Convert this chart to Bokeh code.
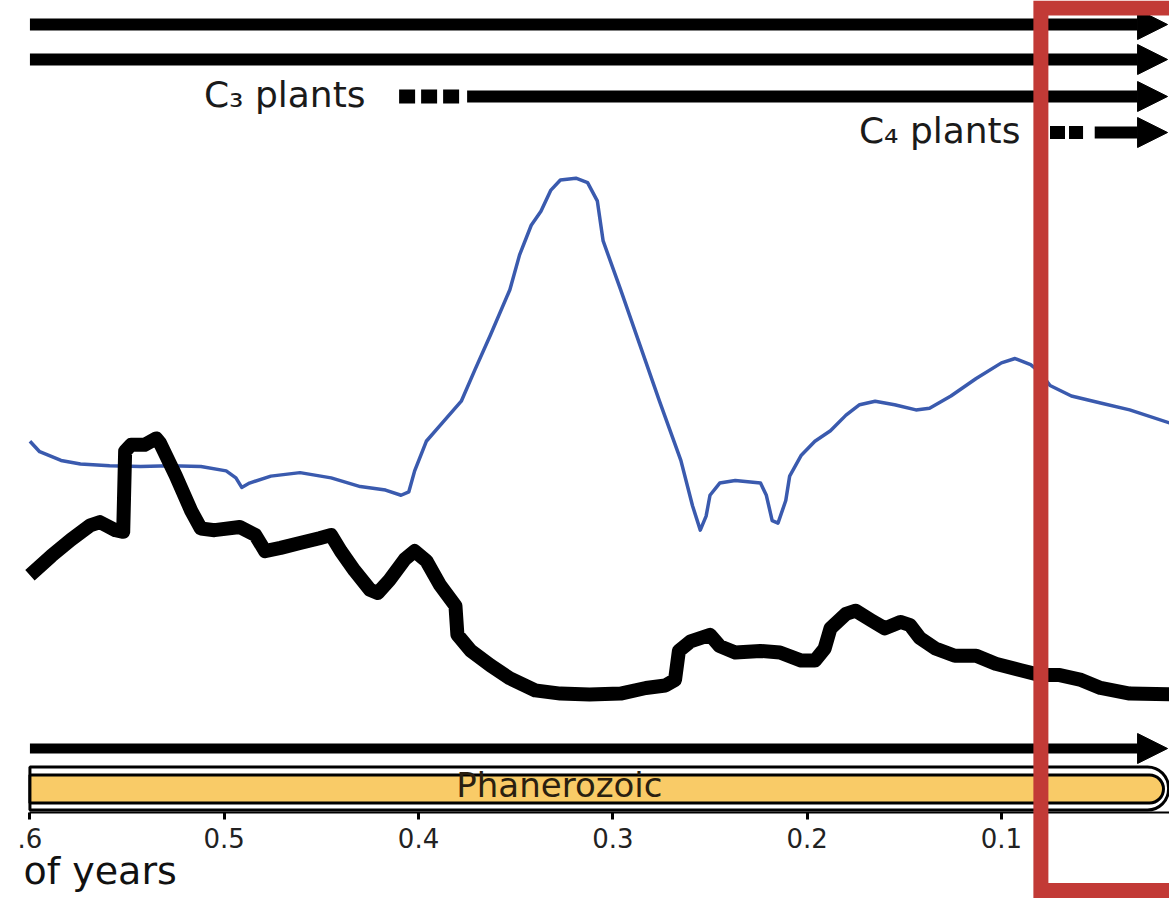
from bokeh.plotting import figure
from bokeh.models import Range1d, FixedTicker, Arrow, NormalHead, Label, BoxAnnotation
from bokeh.core.properties import value
from bokeh.embed import file_html
from bokeh.resources import INLINE

# ---------------- data (time in billions of years before present) ----------------
O2_AGE = [0.600, 0.595, 0.584, 0.574, 0.559, 0.543, 0.528, 0.512, 0.499, 0.494,
          0.491, 0.487, 0.476, 0.461, 0.445, 0.430, 0.417, 0.409, 0.405, 0.402,
          0.396, 0.389, 0.378, 0.371, 0.363, 0.353, 0.348, 0.342, 0.337, 0.332,
          0.327, 0.319, 0.313, 0.308, 0.305, 0.296, 0.286, 0.276, 0.265, 0.259,
          0.255, 0.252, 0.250, 0.245, 0.237, 0.224, 0.221, 0.218, 0.215, 0.211,
          0.209, 0.203, 0.196, 0.188, 0.180, 0.173, 0.165, 0.155, 0.144, 0.137,
          0.126, 0.113, 0.100, 0.093, 0.085, 0.080, 0.075, 0.064, 0.049, 0.034,
          0.012]
O2_PCT = [19.9, 19.3, 18.8, 18.6, 18.5, 18.45, 18.5, 18.45, 18.2, 17.8,
          17.25, 17.5, 17.9, 18.1, 17.8, 17.3, 17.1, 16.8, 17.0, 18.2,
          19.9, 20.8, 22.2, 24.0, 26.0, 28.6, 30.6, 32.3, 33.1, 34.3,
          34.9, 35.0, 34.75, 33.7, 31.4, 28.6, 25.4, 22.2, 18.8, 16.2,
          14.8, 15.6, 16.8, 17.5, 17.65, 17.5, 16.8, 15.35, 15.2, 16.5,
          17.9, 19.1, 19.9, 20.5, 21.4, 22.0, 22.2, 22.0, 21.7, 21.8,
          22.5, 23.5, 24.4, 24.65, 24.3, 23.85, 23.1, 22.5, 22.1, 21.7,
          20.9]

CO2_AGE = [0.600, 0.589, 0.579, 0.569, 0.564, 0.556, 0.552, 0.551, 0.548, 0.541,
           0.535, 0.533, 0.525, 0.517, 0.512, 0.505, 0.492, 0.484, 0.479, 0.471,
           0.461, 0.451, 0.445, 0.440, 0.433, 0.425, 0.421, 0.415, 0.407, 0.402,
           0.396, 0.389, 0.381, 0.380, 0.373, 0.363, 0.353, 0.340, 0.327, 0.312,
           0.296, 0.283, 0.273, 0.268, 0.266, 0.260, 0.250, 0.245, 0.237, 0.224,
           0.214, 0.203, 0.196, 0.191, 0.188, 0.180, 0.175, 0.167, 0.160, 0.152,
           0.147, 0.142, 0.134, 0.124, 0.113, 0.103, 0.090, 0.080, 0.070, 0.059,
           0.049, 0.034, 0.012]
CO2_REL = [8.4, 9.6, 10.6, 11.5, 11.7, 11.2, 11.1, 16.1, 16.5, 16.5,
           16.9, 16.6, 14.6, 12.4, 11.3, 11.2, 11.4, 10.9, 9.9, 10.1,
           10.4, 10.7, 10.9, 9.9, 8.7, 7.5, 7.3, 8.1, 9.4, 9.9,
           9.3, 7.8, 6.5, 4.7, 3.7, 2.8, 2.0, 1.25, 1.05, 1.0,
           1.05, 1.4, 1.55, 1.9, 3.7, 4.3, 4.7, 4.0, 3.6, 3.7,
           3.6, 3.1, 3.1, 3.85, 5.1, 6.0, 6.2, 5.6, 5.1, 5.5,
           5.3, 4.5, 3.85, 3.4, 3.4, 2.9, 2.5, 2.2, 2.2, 1.9,
           1.4, 1.05, 1.0]

TICKS = [0.6, 0.5, 0.4, 0.3, 0.2, 0.1, 0.0]
TICK_LABELS = {0.6: ".6"}
AXIS_TEXT = "of years"

LIFE_START = [0.6, 0.6]                 # two long-lived lineages (top arrows)
C3_TEXT = "C\u2083 plants"
C3_AGES = [0.410, 0.378, 0.375]          # uncertain start, uncertain end, established
C4_TEXT = "C\u2084 plants"
C4_AGES = [0.075, 0.058, 0.052]
EON_TEXT = "Phanerozoic"
EON_AGES = [0.6, 0.014]
ARROW_END = 0.0145
EON_TEXT_AGE = 0.3275

# ---------------- figure ----------------
FONT = value("DejaVu Sans")
p = figure(width=1169, height=901, output_backend="svg", toolbar_location=None,
           x_range=Range1d(0.61515, 0.01351), y_range=Range1d(-6.517, 45.2),
           y_axis_location=None, x_axis_location="below",
           min_border_top=0, min_border_left=0, min_border_right=0, min_border_bottom=0)
p.extra_y_ranges = {"co2": Range1d(-11.863, 44.099), "lane": Range1d(-89, 812)}
p.outline_line_color = None
p.grid.visible = False
p.background_fill_color = "white"
p.border_fill_color = "white"

ax = p.xaxis[0]
ax.fixed_location = -1.409
ax.ticker = FixedTicker(ticks=TICKS)
ax.major_label_overrides = TICK_LABELS
ax.bounds = (0.0, 0.6)
ax.axis_line_width = 2
ax.axis_line_color = "black"
ax.major_tick_line_width = 3
ax.major_tick_out = 7
ax.major_tick_in = 0
ax.minor_tick_line_color = None
ax.major_label_standoff = 8
ax.major_label_text_font = "DejaVu Sans"
ax.major_label_text_font_size = "26px"
ax.major_label_text_color = "#222222"

# curves
p.line(O2_AGE, O2_PCT, line_color="#3a5aae", line_width=3.5, line_join="round")
p.line(CO2_AGE, CO2_REL, y_range_name="co2", line_color="black", line_width=14,
       line_join="round", line_cap="butt")

# top arrows
LANES = [788, 753, 716, 680]
for lane in LANES[:2]:
    p.add_layout(Arrow(end=NormalHead(size=30, fill_color="black", line_color="black"),
                       x_start=LIFE_START[0], x_end=ARROW_END, y_start=lane, y_end=lane,
                       line_width=12, line_color="black", y_range_name="lane"))

# C3
p.line([C3_AGES[0], C3_AGES[1]], [LANES[2], LANES[2]], y_range_name="lane",
       line_width=14, line_color="black", line_dash="16 6")
p.add_layout(Arrow(end=NormalHead(size=30, fill_color="black", line_color="black"),
                   x_start=C3_AGES[2], x_end=ARROW_END, y_start=LANES[2], y_end=LANES[2],
                   line_width=12, line_color="black", y_range_name="lane"))
# C4
p.line([C4_AGES[0], C4_AGES[1]], [LANES[3], LANES[3]], y_range_name="lane",
       line_width=13, line_color="black", line_dash="15 4")
p.add_layout(Arrow(end=NormalHead(size=30, fill_color="black", line_color="black"),
                   x_start=C4_AGES[2], x_end=ARROW_END, y_start=LANES[3], y_end=LANES[3],
                   line_width=12, line_color="black", y_range_name="lane"))

p.text(x=[0.4273], y=[718], text=[C3_TEXT], y_range_name="lane", text_font=FONT,
       text_font_size="36px", text_align="right", text_baseline="alphabetic",
       text_color="#1a1a1a")
p.text(x=[0.0902], y=[682], text=[C4_TEXT], y_range_name="lane", text_font=FONT,
       text_font_size="36px", text_align="right", text_baseline="alphabetic",
       text_color="#1a1a1a")

# bottom arrow
p.add_layout(Arrow(end=NormalHead(size=30, fill_color="black", line_color="black"),
                   x_start=EON_AGES[0], x_end=ARROW_END, y_start=64, y_end=64,
                   line_width=10, line_color="black", y_range_name="lane"))

# eon bar
p.quad(left=[EON_AGES[0]], right=[EON_AGES[1]], top=[45.5], bottom=[2.5],
       y_range_name="lane", fill_color="white", line_color="black", line_width=3,
       border_radius=(0, 21, 21, 0))
p.quad(left=[EON_AGES[0]], right=[0.0166], top=[37.5], bottom=[9.5],
       y_range_name="lane", fill_color="#f9cb67", line_color="black", line_width=3,
       border_radius=(0, 14, 14, 0))
p.text(x=[EON_TEXT_AGE], y=[28], text=[EON_TEXT], y_range_name="lane", text_font=FONT,
       text_font_size="34px", text_align="center", text_baseline="alphabetic",
       text_color="#2a1f10")

# axis title fragment
p.add_layout(Label(x=0.6033, y=-58, text=AXIS_TEXT, y_range_name="lane",
                   text_font="DejaVu Sans", text_font_size="38px",
                   text_align="left", text_baseline="alphabetic", text_color="#111111"))

# red highlight box
p.add_layout(BoxAnnotation(left=0.0797, right=-0.2, top=804.5, bottom=-78,
                           y_range_name="lane", fill_color=None, fill_alpha=0,
                           line_color="#c23a36", line_width=15, line_alpha=1,
                           line_join="miter"))

open("out.html", "w").write(file_html(p, INLINE))
